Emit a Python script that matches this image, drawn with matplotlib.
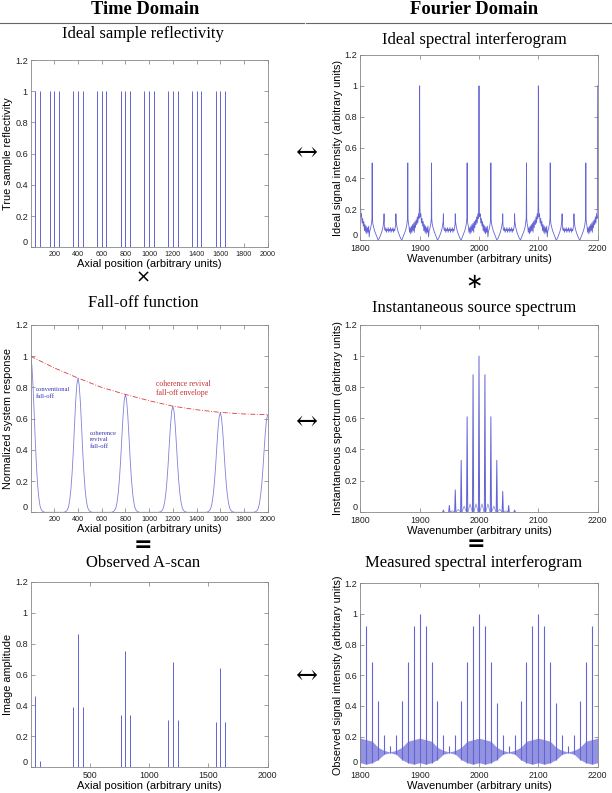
import numpy as np
import matplotlib
matplotlib.use("Agg")
import matplotlib.pyplot as plt

W, H = 612, 793
SANS = "Liberation Sans"
SERIF = "Liberation Serif"
BLUE = "#6464d4"
RED = "#d83c3c"

# --- data ---
# ideal sample reflectivity (reflector positions, all of height 1)
refl_pos = [40, 80, 160, 200, 240, 360, 400, 440, 560, 600, 640, 760, 800, 840,
            960, 1000, 1040, 1160, 1200, 1240, 1360, 1400, 1440, 1560, 1600, 1640]
refl_h = [1.0] * len(refl_pos)

# fall-off function: coherence revival peaks and their profile
fall_centers = [0, 400, 800, 1200, 1600, 2000]
fall_heights = [1.0, 0.86, 0.755, 0.68, 0.64, 0.625]
fall_dx = [-120, -100, -90, -80, -70, -60, -50, -40, -30, -20, -10, 0,
           10, 20, 30, 40, 50, 60, 70, 80, 90, 100, 120]
fall_shape = [0, 0.007, 0.018, 0.04, 0.09, 0.17, 0.29, 0.45, 0.64, 0.82, 0.95, 1.0,
              0.95, 0.82, 0.64, 0.45, 0.29, 0.17, 0.09, 0.04, 0.018, 0.007, 0]
env_x = [0, 200, 400, 600, 800, 1000, 1200, 1400, 1600, 1800, 2000]
env_y = [1.0, 0.925, 0.86, 0.80, 0.755, 0.715, 0.68, 0.657, 0.64, 0.63, 0.625]

# observed A-scan
ascan_pos = [40, 80, 360, 400, 440, 760, 800, 840, 1160, 1200, 1240, 1560, 1600, 1640]
ascan_h = [0.46, 0.04, 0.39, 0.86, 0.39, 0.34, 0.755, 0.34, 0.305, 0.68, 0.305, 0.29, 0.64, 0.29]

# ideal spectral interferogram: one 100-unit period, repeated over the window
ideal_periods = [1800, 1900, 2000, 2100]
ideal_dx = [0, 0.5, 1, 2, 3, 4, 5, 6, 7, 8, 9, 10, 11, 12, 13, 14, 15, 16, 17, 18, 19,
            19.6, 20, 20.4,
            21, 22, 24, 26, 28, 30, 32, 34, 36, 38,
            39.6, 40, 40.4,
            41, 42, 43, 44, 45, 46, 47, 48, 49, 50, 51, 52, 53, 54, 55, 56, 57, 58,
            59.6, 60, 60.4,
            62, 64, 66, 68, 70, 72, 74, 76, 78,
            79.6, 80, 80.4,
            81, 82, 83, 84, 85, 86, 87, 88, 89, 90, 91, 92, 93, 94, 95, 96, 97, 98, 99,
            99.5]
ideal_y = [1.0, 0.22, 0.15, 0.17, 0.11, 0.14, 0.09, 0.12, 0.06, 0.10, 0.05, 0.09, 0.04,
           0.08, 0.05, 0.09, 0.02, 0.06, 0.07, 0.09, 0.11,
           0.14, 0.50, 0.14,
           0.11, 0.09, 0.06, 0.04, 0.02, 0.0, 0.01, 0.03, 0.05, 0.08,
           0.12, 0.17, 0.10,
           0.07, 0.06, 0.08, 0.05, 0.07, 0.06, 0.08, 0.05, 0.07, 0.06, 0.08, 0.05, 0.07,
           0.06, 0.08, 0.05, 0.07, 0.06,
           0.10, 0.17, 0.12,
           0.08, 0.05, 0.03, 0.01, 0.0, 0.02, 0.04, 0.06, 0.09,
           0.14, 0.50, 0.14,
           0.11, 0.09, 0.05, 0.08, 0.04, 0.09, 0.05, 0.10, 0.06, 0.11, 0.05, 0.12, 0.08,
           0.13, 0.10, 0.15, 0.11, 0.17, 0.14,
           0.22]
ideal_end = (2200, 1.0)

# instantaneous source spectrum
src_pos = [1940, 1950, 1960, 1970, 1980, 1990, 2000, 2010, 2020, 2030, 2040, 2050, 2060]
src_h = [0.01, 0.04, 0.14, 0.33, 0.61, 0.88, 1.0, 0.88, 0.61, 0.33, 0.13, 0.04, 0.01]
bump_pos = [1955, 1965, 1975, 1985, 1995, 2005, 2015, 2025, 2035, 2045]
bump_h = [0.005, 0.015, 0.035, 0.05, 0.05, 0.05, 0.05, 0.035, 0.015, 0.005]

# measured spectral interferogram
meas_x = list(range(1800, 2201, 10))
meas_peak = [1.0, 0.92, 0.69, 0.43, 0.21, 0.14, 0.21, 0.43, 0.69, 0.92,
             1.0, 0.92, 0.69, 0.43, 0.21, 0.14, 0.21, 0.43, 0.69, 0.92,
             1.0, 0.92, 0.69, 0.42, 0.21, 0.14, 0.21, 0.43, 0.69, 0.92,
             1.0, 0.92, 0.69, 0.42, 0.21, 0.14, 0.21, 0.43, 0.69, 0.92, 1.0]
meas_upper = [0.19, 0.18, 0.17, 0.13, 0.11, 0.10, 0.11, 0.13, 0.17, 0.18,
              0.19, 0.18, 0.17, 0.13, 0.11, 0.10, 0.11, 0.13, 0.17, 0.18,
              0.19, 0.18, 0.17, 0.13, 0.11, 0.10, 0.11, 0.13, 0.17, 0.18,
              0.19, 0.18, 0.17, 0.13, 0.11, 0.10, 0.11, 0.13, 0.17, 0.18, 0.19]
meas_lower = [0.03, 0.02, 0.03, 0.05, 0.085, 0.095, 0.085, 0.05, 0.03, 0.02,
              0.03, 0.02, 0.03, 0.05, 0.085, 0.095, 0.085, 0.05, 0.03, 0.02,
              0.03, 0.02, 0.03, 0.05, 0.085, 0.095, 0.085, 0.05, 0.03, 0.02,
              0.03, 0.02, 0.03, 0.05, 0.085, 0.095, 0.085, 0.05, 0.03, 0.02, 0.03]

y_ticks = [0, 0.2, 0.4, 0.6, 0.8, 1.0, 1.2]
y_ticklabels = ["0", "0.2", "0.4", "0.6", "0.8", "1", "1.2"]
axial_ticks = [200, 400, 600, 800, 1000, 1200, 1400, 1600, 1800, 2000]
ascan_ticks = [500, 1000, 1500, 2000]
wave_ticks = [1800, 1900, 2000, 2100, 2200]


fig = plt.figure(figsize=(W / 100, H / 100), dpi=100)


def add_ax(l, t, r, b):
    return fig.add_axes([l / W, 1 - b / H, (r - l) / W, (b - t) / H])


def style(ax, xticks, xlim, ylabel, xlabel, xfs=6.3):
    ax.set_xlim(*xlim)
    ax.set_ylim(0, 1.2)
    ax.set_xticks(xticks)
    ax.set_xticklabels([str(t) for t in xticks], fontsize=xfs, family=SANS)
    ax.set_yticks(y_ticks)
    ax.set_yticklabels(y_ticklabels, fontsize=6.6, family=SANS)
    ax.tick_params(direction="in", top=True, right=True, length=3, width=0.5,
                   color="#777777", labelcolor="#222222", pad=2)
    ax.tick_params(axis="x", pad=3)
    # the "0" label sits just above the corner, as in the original
    ax.get_yticklabels()[0].set_verticalalignment("bottom")
    for s in ax.spines.values():
        s.set_color("#888888")
        s.set_linewidth(0.6)
    ax.set_ylabel(ylabel, fontsize=7.8, family=SANS, labelpad=1.5)
    ax.set_xlabel(xlabel, fontsize=8, family=SANS, labelpad=0.5)


def ftext(x, y, s, **kw):
    kw.setdefault("va", "center")
    fig.text(x / W, 1 - y / H, s, ha="center", **kw)


# headers
ftext(145, 13.5, "Time Domain", family=SERIF, fontsize=13.3, weight="bold", va="baseline")
ftext(474, 13.5, "Fourier Domain", family=SERIF, fontsize=13.3, weight="bold", va="baseline")
fig.add_artist(plt.Line2D([0, 304 / W], [1 - 22.7 / H] * 2, color="#666666", lw=0.8))
fig.add_artist(plt.Line2D([306 / W, 611 / W], [1 - 22.7 / H] * 2, color="#666666", lw=0.8))

# panel titles and operators
ftext(143, 34, "Ideal sample reflectivity", family=SERIF, fontsize=12)
ftext(474, 40, "Ideal spectral interferogram", family=SERIF, fontsize=12)
ftext(143, 278, "\u00d7", family="DejaVu Sans", fontsize=13)
ftext(474, 282, "\u2217", family="DejaVu Sans", fontsize=15)
ftext(143, 303, "Fall-off function", family=SERIF, fontsize=12)
ftext(474, 308, "Instantaneous source spectrum", family=SERIF, fontsize=12)
ftext(143, 545, "=", family="DejaVu Sans", fontsize=16, weight="bold")
ftext(476, 544, "=", family="DejaVu Sans", fontsize=16, weight="bold")
ftext(143, 563, "Observed A-scan", family=SERIF, fontsize=12)
ftext(474, 563, "Measured spectral interferogram", family=SERIF, fontsize=12)
for ay in [152, 421, 675]:
    ftext(306, ay, "\u2194", family="DejaVu Serif", fontsize=19)

# --- top left: reflectivity ---
ax = add_ax(30.7, 60, 267.7, 247.3)
ax.vlines(refl_pos, 0, refl_h, color=BLUE, lw=0.7)
style(ax, axial_ticks, (1, 2000), "True sample reflectivity",
      "Axial position (arbitrary units)", xfs=5.2)

# --- top right: ideal interferogram ---
ax = add_ax(360.3, 55, 597.7, 240)
ix = np.concatenate([np.array(ideal_dx) + p for p in ideal_periods] + [[ideal_end[0]]])
iy = np.concatenate([ideal_y for _ in ideal_periods] + [[ideal_end[1]]])
ax.plot(ix, iy, color=BLUE, lw=0.6)
style(ax, wave_ticks, (1800, 2200), "Ideal signal intensity (arbitrary units)",
      "Wavenumber (arbitrary units)")

# --- middle left: fall-off ---
ax = add_ax(30.7, 325, 267.7, 512.3)
fx, fy = [], []
for c, h in zip(fall_centers, fall_heights):
    for d, s in zip(fall_dx, fall_shape):
        if 0 <= c + d <= 2000:
            fx.append(c + d)
            fy.append(h * s)
ax.plot(fx, fy, color="#8080dc", lw=0.6)
ax.plot(env_x, env_y, color=RED, lw=0.6, ls=(0, (6, 2, 1, 2)))
ax.text(45, 0.80, "conventional\nfall-off", family=SERIF, fontsize=4.8,
        color="#3232b4", va="top", linespacing=1.3)
ax.text(500, 0.52, "coherence\nrevival\nfall-off", family=SERIF, fontsize=4.8,
        color="#3232b4", va="top", linespacing=1.3)
ax.text(1055, 0.85, "coherence revival\nfall-off envelope", family=SERIF, fontsize=5.6,
        color="#c83232", va="top", linespacing=1.3)
style(ax, axial_ticks, (1, 2000), "Normalized system response",
      "Axial position (arbitrary units)", xfs=5.2)

# --- middle right: source spectrum ---
ax = add_ax(360.3, 325, 597.7, 511.7)
ax.plot([1800, 2200], [0, 0], color=BLUE, lw=0.6)
for p, h in zip(bump_pos, bump_h):
    ax.plot([p - 3.5, p, p + 3.5], [0, h, 0], color="#9090e0", lw=0.6)
for p, h in zip(src_pos, src_h):
    ax.plot([p - 1.0, p, p + 1.0], [0, h, 0], color=BLUE, lw=0.7)
style(ax, wave_ticks, (1800, 2200), "Instantaneous spectrum (arbitrary units)",
      "Wavenumber (arbitrary units)")

# --- bottom left: A-scan ---
ax = add_ax(30.7, 581.7, 267.7, 767.3)
ax.vlines(ascan_pos, 0, ascan_h, color=BLUE, lw=0.7)
style(ax, ascan_ticks, (1, 2000), "Image amplitude", "Axial position (arbitrary units)")

# --- bottom right: measured interferogram ---
ax = add_ax(360.3, 583.3, 597.7, 767.3)
ax.fill_between(meas_x, meas_lower, meas_upper, color="#6a6ad8", alpha=0.72, lw=0)
ax.vlines(meas_x, meas_lower, meas_peak, color=BLUE, lw=0.8)
style(ax, wave_ticks, (1800, 2200), "Observed signal intensity (arbitrary units)",
      "Wavenumber (arbitrary units)")

fig.savefig("out.png", dpi=100)
